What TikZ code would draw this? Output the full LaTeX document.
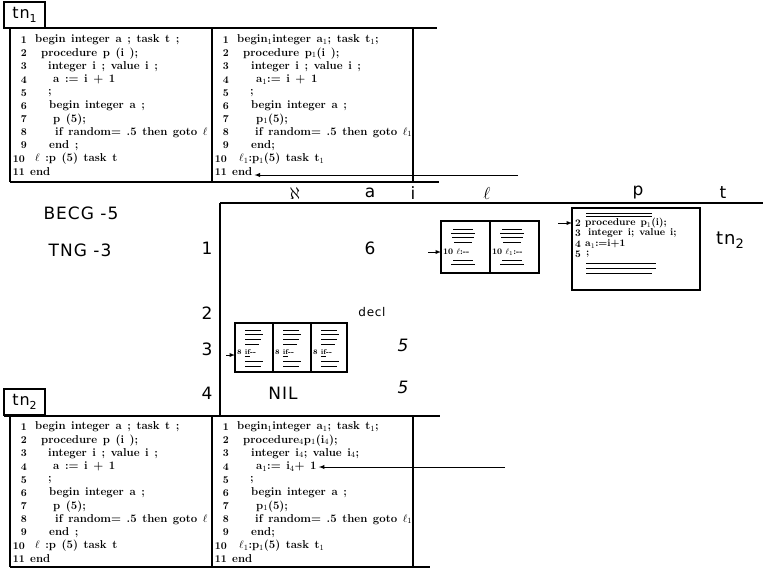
\documentclass[tikz,border=0pt]{standalone}
\usepackage{fontspec}
\newfontfamily\handfont[LetterSpace=6]{DejaVu Sans}
\usetikzlibrary{positioning}

\protected\def\codefont{\fontsize{11.4}{13}\selectfont\bfseries\spaceskip=5.6pt plus 1pt\relax}
\protected\def\procfont{\fontsize{10}{11}\selectfont\bfseries\spaceskip=5pt plus 1pt\relax}

\tikzset{
  rule/.style={line width=1.3pt},
  pointer/.style={->, line width=0.9pt, shorten >=2pt},
  codeline/.style={anchor=west, inner sep=0pt, font=\codefont},
  codenum/.style={anchor=east, inner sep=0pt, font=\fontsize{10.4}{12}\selectfont\bfseries},
  boxline/.style={anchor=west, inner sep=0pt, font=\procfont},
  cellline/.style={anchor=west, inner sep=0pt, font=\fontsize{8.5}{9}\selectfont\bfseries},
  hand/.style={inner sep=0pt, font=\handfont\fontsize{17}{19}\selectfont},
  tnbox/.style={draw, rule, inner sep=0pt, minimum width=41pt, minimum height=26pt, font=\handfont\fontsize{16}{18}\selectfont},
  cell/.style={draw, line width=1.1pt, outer sep=0pt, inner sep=0pt},
  scrib/.style={line width=0.8pt},
}

% program texts: line / indent / text
\def\progplain{1/25/{begin integer a ; task t ;},2/31/{procedure p (i );},3/38/{integer i ; value i ;},4/43/{a := i + 1},5/38/{;},6/39/{begin integer a ;},7/43/{p (5);},8/45/{if random= .5 then goto $\ell$},9/39/{end ;},10/25/{$\ell$ :p (5) task t},11/20/{end}}
\def\progone{1/25/{begin$_1$integer a$_1$; task t$_1$;},2/31/{procedure p$_1$(i );},3/39/{integer i ; value i ;},4/44/{a$_1$:= i + 1},5/38/{;},6/39/{begin integer a ;},7/44/{p$_1$(5);},8/43/{if random= .5 then goto $\ell_1$},9/39/{end;},10/27/{$\ell_1$:p$_1$(5) task t$_1$},11/20/{end}}
\def\progfour{1/25/{begin$_1$integer a$_1$; task t$_1$;},2/31/{procedure$_4$p$_1$(i$_4$);},3/39/{integer i$_4$; value i$_4$;},4/44/{a$_1$:= i$_4$+ 1},5/38/{;},6/39/{begin integer a ;},7/44/{p$_1$(5);},8/43/{if random= .5 then goto $\ell_1$},9/39/{end;},10/27/{$\ell_1$:p$_1$(5) task t$_1$},11/20/{end}}

\newcommand\codepanel[4]{%
  \foreach \lno/\ind/\txt in #3 {
    \node[codenum] (#4n\lno) at ({#1+17-2*(\lno>9)},{#2+13.2*\lno-13.2}) {\lno};
    \node[codeline] (#4\lno) at ({#1+\ind},{#2+13.2*\lno-13.2}) {\txt};
  }}

\begin{document}
\begin{tikzpicture}[x=1pt, y=-1pt, >=latex]
  \useasboundingbox (0,0) rectangle (770,571);

  % tn_1 : the program before the call
  \node[tnbox] (tn1) at (24.5,15) {tn\raisebox{-4pt}{\fontsize{11}{11}\selectfont 1}};
  \draw[rule] (4,28) -- (437,28);
  \draw[rule] (10,28) -- (10,182);
  \draw[rule] (212,28) -- (212,182);
  \draw[rule] (413,28) -- (413,182);
  \draw[rule] (10,182) -- (439,182);
  \codepanel{10}{40}{\progplain}{tl}
  \codepanel{212}{40}{\progone}{tr}
  \coordinate (endtip) at (518,175);
  \draw[pointer] (endtip) -- (endtip -| tr11.east);

  % the table
  \draw[rule] (220,203) -- (763,203);
  \draw[rule] (220,203) -- (220,416);
  \foreach \x/\lbl/\nm in {295/$\aleph$/cola, 370/a/colb, 413/i/colc, 487/$\ell$/cold, 638/p/cole, 723/t/colf}
    \node[hand] (\nm) at (\x,193) {\lbl};
  \node[hand] (becg) at (81,213) {BECG -5};
  \node[hand] (tng) at (80,250) {TNG -3};
  \foreach \r/\y in {1/248, 2/313, 3/349, 4/393}
    \node[hand] (row\r) at (207,\y) {\r};
  \node[hand] (six) at (370,248) {6};
  \node[hand, font=\handfont\fontsize{12}{14}\selectfont] (decl) at (372,312) {decl};
  \node[hand] (fivea) at (403,345) {\itshape 5};
  \node[hand] (nil) at (283,393) {NIL};
  \node[hand] (fiveb) at (403,387) {\itshape 5};
  \node[hand, font=\handfont\fontsize{18}{20}\selectfont] (tnlbl) at (730,240) {tn\raisebox{-4pt}{\fontsize{13}{13}\selectfont 2}};

  % label cells
  \node[cell, minimum width=49pt, minimum height=52pt] (lab1) at (465.5,247) {};
  \node[cell, minimum width=49pt, minimum height=52pt, right=0pt of lab1] (lab2) {};
  \node[cellline] (labt1) at (443,252) {10 $\ell$:-{}-};
  \node[cellline] (labt2) at (492,252) {10 $\ell_1$:-{}-};
  \foreach \cx in {463,512}
    \foreach \yy/\w in {229/20, 233/24, 237/22, 242/18, 260/20, 264/24}
      \draw[scrib] (\cx-\w/2,\yy) -- (\cx+\w/2,\yy);
  \coordinate (labtip) at (428,252);
  \draw[pointer, shorten >=0pt] (labtip) -- (labtip -| lab1.west);

  % procedure body
  \node[cell, minimum width=128pt, minimum height=82pt] (proc) at (636,249) {};
  \foreach \yy/\w in {213/66, 216/66, 263/70, 268/70, 273/66}
    \draw[scrib] (586,\yy) -- (586+\w,\yy);
  \foreach \lno/\dx/\txt/\yy in {2/10/{procedure p$_1$(i);}/223, 3/13/{integer i; value i;}/233.5, 4/10/{a$_1$:=i+1}/244, 5/11/{;}/254.5} {
    \node[boxline] (pn\lno) at (575,\yy) {\lno};
    \node[boxline] (pl\lno) at (575+\dx,\yy) {\txt};
  }
  \coordinate (proctip) at (558,223);
  \draw[pointer, shorten >=0pt] (proctip) -- (proctip -| proc.west);

  % if cells
  \node[cell, minimum width=38pt, minimum height=49pt] (ifa) at (254,347.5) {};
  \node[cell, minimum width=38pt, minimum height=49pt, right=0pt of ifa] (ifb) {};
  \node[cell, minimum width=36pt, minimum height=49pt, right=0pt of ifb] (ifc) {};
  \foreach \c/\cx in {a/235, b/273, c/311} {
    \node[cellline, font=\fontsize{7}{8}\selectfont\bfseries] (ift\c) at (\cx+2,353) {8 \underline{if}-{}-};
    \foreach \yy/\w in {330/16, 334/18, 339/16, 344/14, 361/18, 366/16}
      \draw[scrib] (\cx+10,\yy) -- (\cx+10+\w,\yy);
  }
  \coordinate (iftip) at (226,355);
  \draw[pointer, shorten >=0pt] (iftip) -- (iftip -| ifa.west);

  % tn_2 : the program after the call
  \node[tnbox] (tn2) at (24.5,402) {tn\raisebox{-4pt}{\fontsize{11}{11}\selectfont 2}};
  \draw[rule] (4,416) -- (440,416);
  \draw[rule] (10,416) -- (10,567);
  \draw[rule] (212,416) -- (212,567);
  \draw[rule] (413,416) -- (413,567);
  \draw[rule] (10,567) -- (430,567);
  \codepanel{10}{427}{\progplain}{bl}
  \codepanel{212}{427}{\progfour}{br}
  \coordinate (asgtip) at (505,467);
  \draw[pointer] (asgtip) -- (asgtip -| br4.east);
\end{tikzpicture}
\end{document}
